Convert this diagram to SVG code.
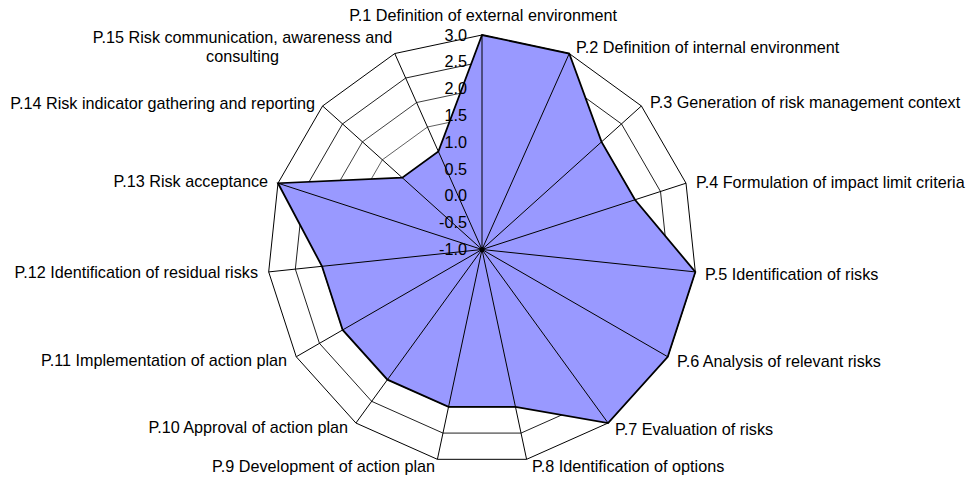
<svg xmlns="http://www.w3.org/2000/svg" xmlns:xlink="http://www.w3.org/1999/xlink" width="975" height="481" viewBox="0 0 975 481">
<style>
text{font-family:"Liberation Sans",Arial,sans-serif;font-size:16.2px;fill:#000}
.ring{fill:none;stroke:#000;stroke-width:1;vector-effect:non-scaling-stroke}
.axis{stroke:#000;stroke-width:1}
.data{fill:#9999FF;stroke:#000;stroke-width:1.8;stroke-linejoin:miter}
.tick{text-anchor:end}
</style>
<defs>
<polygon id="ringShape" points="0,-214.5 87.245,-195.955 159.405,-143.529 204.002,-66.284 213.325,22.421 185.762,107.25 126.08,173.534 44.597,209.813 -44.597,209.813 -126.08,173.534 -185.762,107.25 -213.325,22.421 -204.002,-66.284 -159.405,-143.529 -87.245,-195.955"/>
</defs>
<rect width="975" height="481" fill="#fff"/>
<g id="chart" transform="translate(482,249.5)">
<g id="grid">
<use xlink:href="#ringShape" class="ring" transform="scale(0.125)"/>
<use xlink:href="#ringShape" class="ring" transform="scale(0.25)"/>
<use xlink:href="#ringShape" class="ring" transform="scale(0.375)"/>
<use xlink:href="#ringShape" class="ring" transform="scale(0.5)"/>
<use xlink:href="#ringShape" class="ring" transform="scale(0.625)"/>
<use xlink:href="#ringShape" class="ring" transform="scale(0.75)"/>
<use xlink:href="#ringShape" class="ring" transform="scale(0.875)"/>
<use xlink:href="#ringShape" class="ring"/>
</g>
<polygon id="series" class="data" points="0,-214.5 87.245,-195.955 119.554,-107.647 153.002,-49.713 213.325,22.421 185.762,107.25 126.08,173.534 33.448,157.36 -33.448,157.36 -94.56,130.151 -139.322,80.438 -159.994,16.816 -204.002,-66.284 -79.703,-71.765 -43.623,-97.978"/>
<g id="connectors" class="axis">
<line x1="0" y1="0" x2="0" y2="-214.5"/>
<line x1="0" y1="0" x2="87.245" y2="-195.955"/>
<line x1="0" y1="0" x2="159.405" y2="-143.529"/>
<line x1="0" y1="0" x2="204.002" y2="-66.284"/>
<line x1="0" y1="0" x2="213.325" y2="22.421"/>
<line x1="0" y1="0" x2="185.762" y2="107.25"/>
<line x1="0" y1="0" x2="126.08" y2="173.534"/>
<line x1="0" y1="0" x2="44.597" y2="209.813"/>
<line x1="0" y1="0" x2="-44.597" y2="209.813"/>
<line x1="0" y1="0" x2="-126.08" y2="173.534"/>
<line x1="0" y1="0" x2="-185.762" y2="107.25"/>
<line x1="0" y1="0" x2="-213.325" y2="22.421"/>
<line x1="0" y1="0" x2="-204.002" y2="-66.284"/>
<line x1="0" y1="0" x2="-159.405" y2="-143.529"/>
<line x1="0" y1="0" x2="-87.245" y2="-195.955"/>
</g>
<circle cx="0" cy="0" r="2.5" fill="#000"/>
</g>
<g id="ticks">
<text class="tick" x="467" y="40.5">3.0</text>
<text class="tick" x="467" y="67.3">2.5</text>
<text class="tick" x="467" y="94.1">2.0</text>
<text class="tick" x="467" y="120.9">1.5</text>
<text class="tick" x="467" y="147.8">1.0</text>
<text class="tick" x="467" y="174.6">0.5</text>
<text class="tick" x="467" y="201.4">0.0</text>
<text class="tick" x="467" y="228.2">-0.5</text>
<text class="tick" x="467" y="255">-1.0</text>
</g>
<g id="p1"><text x="617" y="21" text-anchor="end">P.1 Definition of external environment</text></g>
<g id="p2"><text x="576" y="53">P.2 Definition of internal environment</text></g>
<g id="p3"><text x="650" y="108">P.3 Generation of risk management context</text></g>
<g id="p4"><text x="696" y="188">P.4 Formulation of impact limit criteria</text></g>
<g id="p5"><text x="705" y="280">P.5 Identification of risks</text></g>
<g id="p6"><text x="677" y="367">P.6 Analysis of relevant risks</text></g>
<g id="p7"><text x="615" y="435">P.7 Evaluation of risks</text></g>
<g id="p8"><text x="532" y="472">P.8 Identification of options</text></g>
<g id="p9"><text x="435" y="472" text-anchor="end">P.9 Development of action plan</text></g>
<g id="p10"><text x="348" y="433" text-anchor="end">P.10 Approval of action plan</text></g>
<g id="p11"><text x="287" y="366" text-anchor="end">P.11 Implementation of action plan</text></g>
<g id="p12"><text x="258" y="278" text-anchor="end">P.12 Identification of residual risks</text></g>
<g id="p13"><text x="268" y="187" text-anchor="end">P.13 Risk acceptance</text></g>
<g id="p14"><text x="315" y="109" text-anchor="end">P.14 Risk indicator gathering and reporting</text></g>
<g id="p15"><text x="242.5" y="43" text-anchor="middle">P.15 Risk communication, awareness and</text><text x="242.5" y="62" text-anchor="middle">consulting</text></g>
</svg>
